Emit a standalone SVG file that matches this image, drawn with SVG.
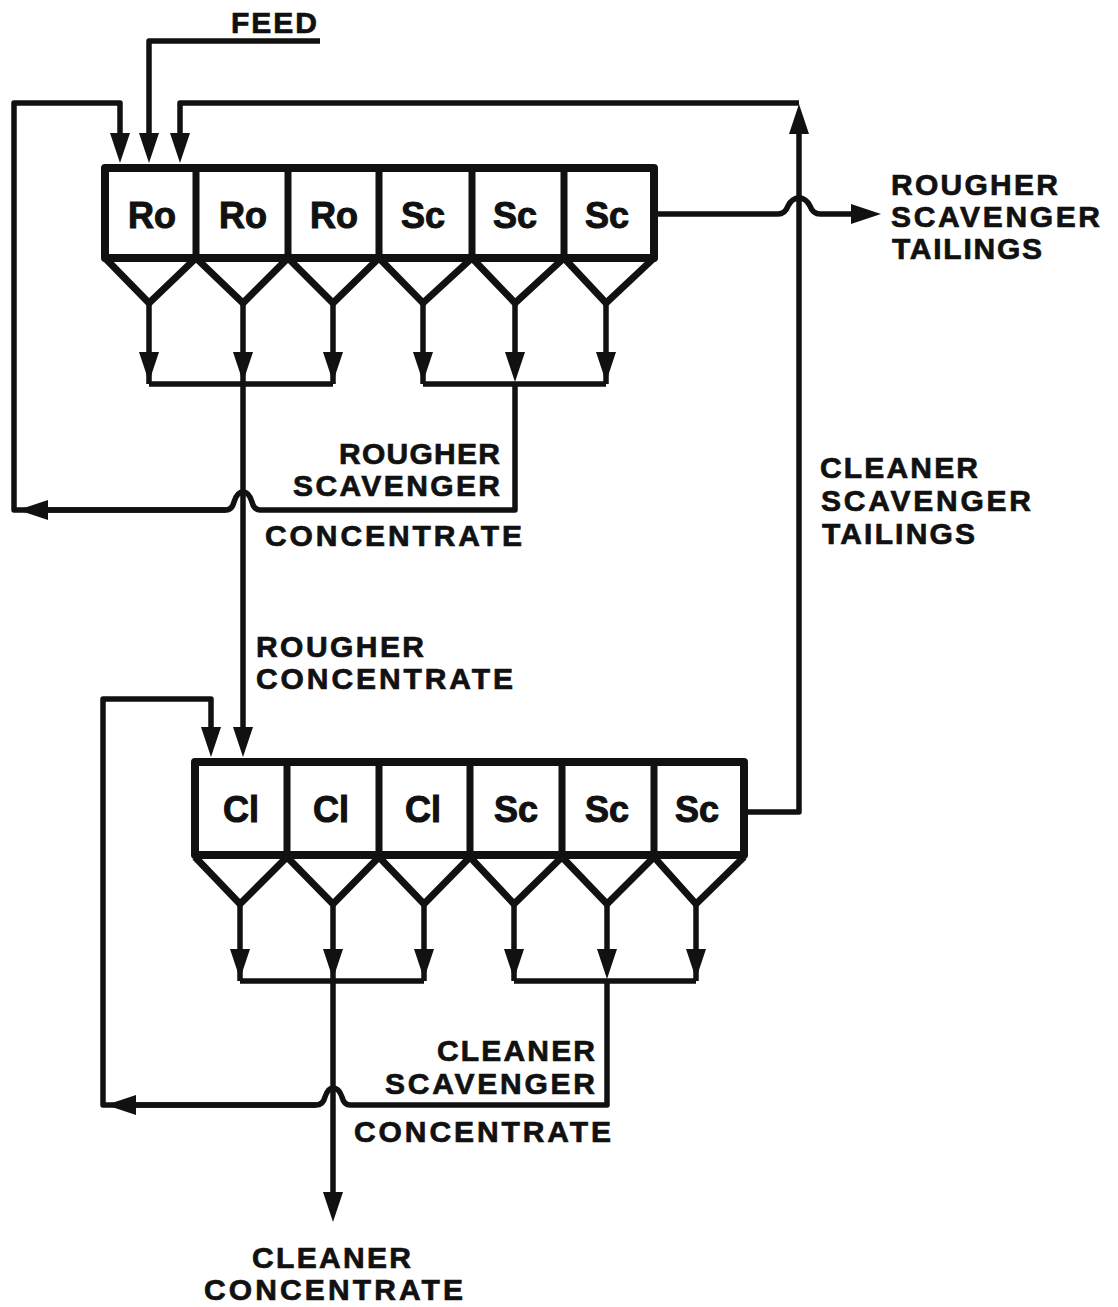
<svg xmlns="http://www.w3.org/2000/svg" width="1118" height="1307" viewBox="0 0 1118 1307">
<style>
.bg{fill:#fff}
.c{fill:none;stroke:#111;stroke-width:5.5;stroke-linejoin:round}
.a{marker-end:url(#a)}
.cell{fill:none;stroke:#111;stroke-width:7}
.box{fill:none;stroke:#111;stroke-width:8;stroke-linejoin:round}
.hop{fill:none;stroke:#111;stroke-width:7;stroke-linejoin:miter}
text{font-family:"Liberation Sans",Arial,sans-serif;font-weight:bold;fill:#111;stroke:#111;stroke-width:.7;font-size:30px}
.n{font-size:36px;text-anchor:middle;stroke-width:1}
</style>
<defs>
<marker id="a" markerUnits="userSpaceOnUse" markerWidth="32" markerHeight="21" refX="15" refY="10" orient="auto"><path d="M0 0L30 10L0 20Z" fill="#111"/></marker>
</defs>
<rect class="bg" width="1118" height="1307"/>
<g id="connectors">
<path class="c a" d="M320 41H149V148"/>
<path class="c a" d="M226 510H14V103H120V148"/>
<path class="c" d="M226 510Q232 510 234 502Q237 492 243 492Q249 492 252 502Q254 510 260 510H515V384"/>
<path class="c a" d="M226 510H33"/>
<path class="c a" d="M799 103H180V148"/>
<path class="c a" d="M745 812H799V119"/>
<path class="c a" d="M656 214H778Q785 214 788 206Q792 198 799 198Q806 198 810 206Q813 214 820 214H866"/>
<path class="c" d="M149 384H333M423 384H606"/>
<path class="c a" d="M149 305V367"/>
<path class="c a" d="M243 305V367"/>
<path class="c a" d="M333 305V367"/>
<path class="c a" d="M423 305V367"/>
<path class="c a" d="M515 305V367"/>
<path class="c a" d="M606 305V367"/>
<path class="c" d="M149 366V384M333 366V384M423 366V384M606 366V384"/>
<path class="c a" d="M243 367V742"/>
<path class="c a" d="M316 1105H103V699H211V742"/>
<path class="c" d="M316 1105Q323 1105 325 1097Q328 1088 333 1088Q339 1088 342 1097Q344 1105 350 1105H607V981"/>
<path class="c a" d="M316 1105H121"/>
<path class="c" d="M240 981H424M514 981H696"/>
<path class="c a" d="M240 905V964"/>
<path class="c a" d="M333 905V964"/>
<path class="c a" d="M424 905V964"/>
<path class="c a" d="M514 905V964"/>
<path class="c a" d="M607 905V964"/>
<path class="c a" d="M696 905V964"/>
<path class="c" d="M240 963V981M424 963V981M514 963V981M696 963V981"/>
<path class="c a" d="M333 964V1207"/>
</g>
<g id="rougher-bank">
<rect class="box" x="105" y="168" width="549" height="90"/>
<path class="cell" d="M196 168V258M288 168V258M379 168V258M472 168V258M564 168V258"/>
<path class="hop" d="M105 258L149 303L196 258L243 303L288 258L333 303L379 258L423 303L472 258L515 303L564 258L606 303L654 258"/>
<text class="n" x="152" y="228">Ro</text><text class="n" x="243" y="228">Ro</text><text class="n" x="334" y="228">Ro</text><text class="n" x="423" y="228">Sc</text><text class="n" x="515" y="228">Sc</text><text class="n" x="607" y="228">Sc</text>
</g>
<g id="cleaner-bank">
<rect class="box" x="195" y="762" width="549" height="93"/>
<path class="cell" d="M287 762V855M379 762V855M470 762V855M562 762V855M654 762V855"/>
<path class="hop" d="M195 857L240 904L287 857L333 904L379 857L424 904L470 857L514 904L562 857L607 904L654 857L696 904L744 857"/>
<text class="n" x="241" y="822">Cl</text><text class="n" x="331" y="822">Cl</text><text class="n" x="423" y="822">Cl</text><text class="n" x="516" y="822">Sc</text><text class="n" x="607" y="822">Sc</text><text class="n" x="697" y="822">Sc</text>
</g>
<g id="labels">
<text x="231" y="33" textLength="86">FEED</text>
<text x="891" y="195" textLength="167">ROUGHER</text><text x="891" y="227" textLength="209">SCAVENGER</text><text x="892" y="259" textLength="150">TAILINGS</text>
<text x="339" y="464" textLength="161">ROUGHER</text><text x="293" y="496" textLength="207">SCAVENGER</text><text x="265" y="546" textLength="257">CONCENTRATE</text>
<text x="820" y="478" textLength="158">CLEANER</text><text x="821" y="511" textLength="210">SCAVENGER</text><text x="822" y="544" textLength="153">TAILINGS</text>
<text x="256" y="657" textLength="168">ROUGHER</text><text x="256" y="689" textLength="257">CONCENTRATE</text>
<text x="437" y="1061" textLength="158">CLEANER</text><text x="385" y="1094" textLength="210">SCAVENGER</text><text x="354" y="1142" textLength="257">CONCENTRATE</text>
<text x="252" y="1268" textLength="159">CLEANER</text><text x="204" y="1300" textLength="259">CONCENTRATE</text>
</g>
</svg>
